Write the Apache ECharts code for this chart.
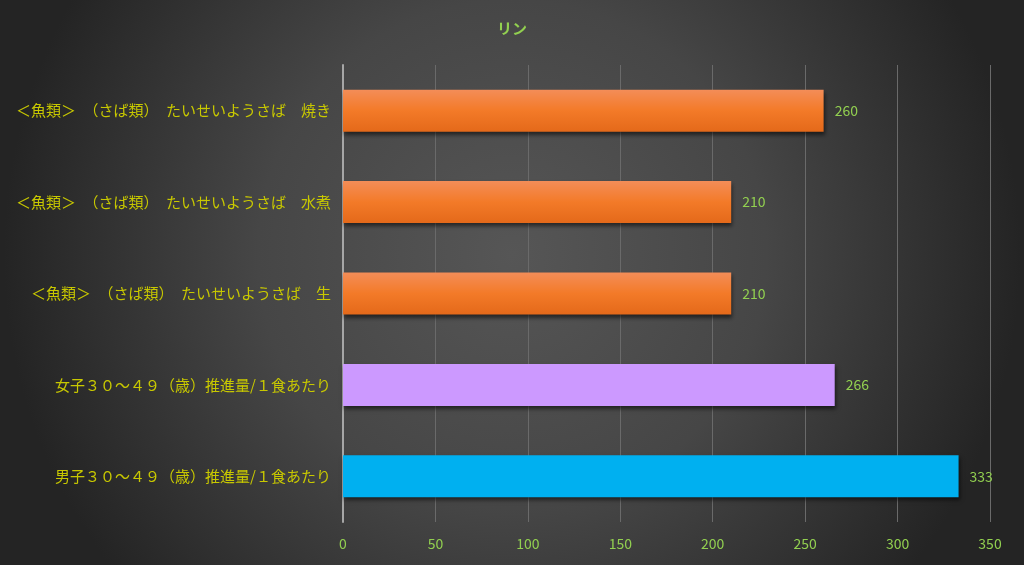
<!DOCTYPE html>
<html>
<head>
<meta charset="utf-8">
<script src="https://cdn.jsdelivr.net/npm/echarts@6/dist/echarts.min.js"></script>
<style>
  html, body { margin: 0; padding: 0; }
  #main { width: 1024px; height: 565px; }
</style>
</head>
<body>
<div id="main"></div>
<script>
// カテゴリ（下から上へ）
var categories = [
    '男子３０～４９（歳）推進量/１食あたり',
    '女子３０～４９（歳）推進量/１食あたり',
    '＜魚類＞　（さば類）　たいせいようさば　生',
    '＜魚類＞　（さば類）　たいせいようさば　水煮',
    '＜魚類＞　（さば類）　たいせいようさば　焼き'
];
// リンの値 (mg)
var values = [333, 266, 210, 210, 260];
var xTicks = [0, 50, 100, 150, 200, 250, 300, 350];

var orange = {
    type: 'linear', x: 0, y: 0, x2: 0, y2: 1,
    colorStops: [
        { offset: 0, color: '#F38D58' },
        { offset: 0.5, color: '#F37A28' },
        { offset: 1, color: '#E4691A' }
    ]
};
var barColors = ['#00B0F0', '#CC99FF', orange, orange, orange];

var myChart = echarts.init(document.getElementById('main'));
var option = {
    backgroundColor: {
        type: 'radial', x: 0.5, y: 0.45, r: 0.9,
        colorStops: [
            { offset: 0, color: '#565656' },
            { offset: 0.5, color: '#464646' },
            { offset: 1, color: '#242424' }
        ]
    },
    title: {
        text: 'リン',
        left: 'center',
        top: 16,
        textStyle: {
            color: '#92D050',
            fontSize: 15,
            fontWeight: 'bold',
            fontFamily: 'Noto Sans CJK JP'
        }
    },
    grid: { left: 343, right: 34, top: 65, bottom: 43 },
    xAxis: {
        type: 'value',
        min: xTicks[0],
        max: xTicks[xTicks.length - 1],
        interval: xTicks[1] - xTicks[0],
        axisLine: { show: false },
        axisTick: { show: false },
        splitLine: { lineStyle: { color: '#6a6a6a', width: 1 } },
        axisLabel: {
            color: '#92D050',
            fontSize: 14,
            margin: 15,
            fontFamily: 'Noto Sans CJK JP'
        }
    },
    yAxis: {
        type: 'category',
        data: categories,
        axisLine: { lineStyle: { color: '#A6A6A6', width: 2 } },
        axisTick: { show: false },
        axisLabel: {
            color: '#C8C800',
            fontSize: 15,
            margin: 12,
            fontFamily: 'Noto Sans CJK JP'
        }
    },
    series: [
        {
            name: 'リン',
            type: 'bar',
            barWidth: '46%',
            data: values.map(function (v, i) {
                return { value: v, itemStyle: { color: barColors[i] } };
            }),
            itemStyle: {
                shadowColor: 'rgba(0,0,0,0.55)',
                shadowBlur: 4,
                shadowOffsetX: 1,
                shadowOffsetY: 3
            },
            label: {
                show: true,
                position: 'right',
                distance: 11,
                color: '#92D050',
                fontSize: 14,
                fontFamily: 'Noto Sans CJK JP'
            }
        }
    ]
};
myChart.setOption(option);
</script>
</body>
</html>
